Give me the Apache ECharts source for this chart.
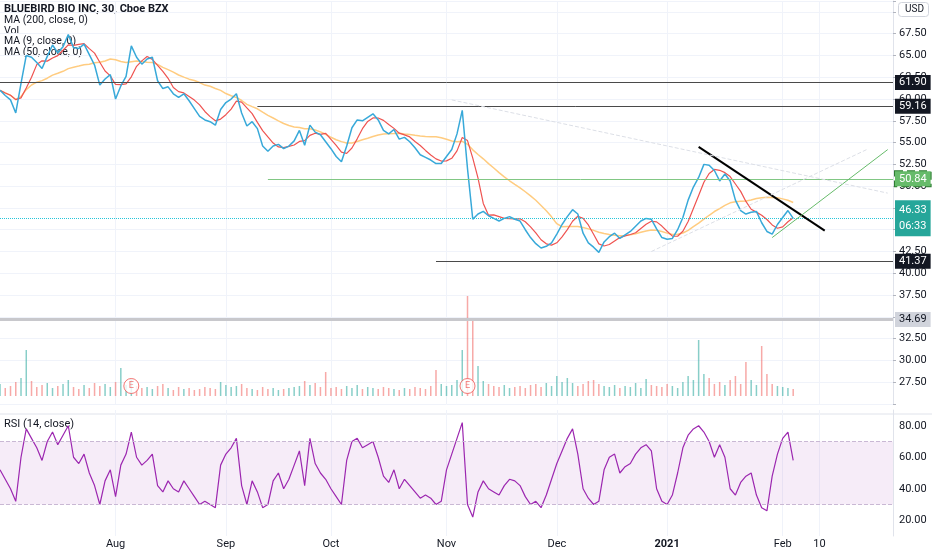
<!DOCTYPE html>
<html><head><meta charset="utf-8">
<script src="https://cdn.jsdelivr.net/npm/echarts@6/dist/echarts.min.js"></script>
<style>html,body{margin:0;padding:0;background:#fff}#c{width:932px;height:550px}</style>
</head><body><div id="c"></div>
<script>
var closes=[61.0,60.4,59.9,58.4,61.8,65.0,64.8,64.2,63.5,64.9,66.2,65.3,66.0,67.4,65.9,65.8,66.3,65.1,63.9,61.6,
62.3,62.8,60.0,61.5,62.6,66.1,64.8,64.0,64.6,64.8,62.1,61.2,61.4,60.6,60.2,60.6,59.8,58.9,58.0,57.6,
57.4,57.0,58.8,59.6,60.0,60.6,58.4,56.9,57.4,56.6,54.6,54.0,54.6,54.8,54.3,54.6,55.2,56.4,54.7,57.0,
56.2,55.9,55.1,54.3,53.4,52.8,54.6,56.7,57.6,57.5,57.9,58.3,57.6,56.4,56.0,56.5,55.4,55.6,55.1,54.4,
53.6,53.3,53.0,52.6,52.6,53.4,54.2,56.0,58.7,52.0,46.2,46.8,47.1,46.6,46.3,46.0,46.3,46.5,46.2,46.0,
45.0,44.1,43.4,42.9,43.1,43.5,44.5,45.6,46.5,47.3,46.8,44.6,43.5,43.0,42.4,43.6,44.2,44.6,44.0,44.4,
44.8,45.4,46.0,46.3,46.2,45.1,44.1,43.9,44.0,45.0,46.4,48.4,49.9,51.0,52.5,52.4,51.8,50.6,51.4,50.6,
48.4,47.2,46.8,47.0,47.1,45.8,44.8,44.5,45.6,46.4,47.2,46.3];
var volumes=[1.2,0.8,1.0,1.4,1.8,4.6,1.5,0.9,1.1,1.3,0.8,1.0,1.2,1.6,0.9,0.7,1.1,0.8,1.3,1.0,
1.2,0.9,1.4,2.8,1.1,1.7,1.0,0.8,0.9,0.7,1.0,1.2,0.8,0.6,0.9,0.7,0.8,0.6,0.7,0.9,
0.8,0.7,1.4,1.1,0.9,1.0,1.2,0.8,0.7,0.6,0.9,0.7,0.8,0.6,0.7,0.8,0.9,1.0,1.5,1.1,
1.3,0.9,2.4,0.8,0.9,0.7,1.0,0.8,1.1,0.7,0.9,0.8,0.7,0.9,0.8,0.7,0.6,0.8,0.7,0.9,
0.8,0.7,1.0,2.6,1.2,1.0,1.1,1.6,4.6,10.0,7.5,3.0,1.5,1.2,1.0,0.9,1.1,0.8,0.9,1.0,
0.8,1.1,1.2,0.9,1.3,1.0,2.0,1.4,1.8,1.3,1.0,1.2,1.5,1.6,1.2,1.0,0.9,1.1,0.8,1.0,
0.9,1.3,0.8,1.7,1.1,1.0,0.9,1.2,1.0,0.8,1.4,2.0,1.6,5.6,2.2,1.8,1.2,1.4,1.1,1.6,
2.0,1.2,3.4,1.6,1.1,5.0,2.2,1.2,1.0,0.9,0.8,0.7];
var rsi=[52,46,40,32,60,78,72,66,58,70,76,68,74,80,60,56,62,50,42,30,
45,52,35,55,62,76,60,55,58,62,42,38,45,40,38,45,40,35,30,32,
30,28,55,62,66,72,42,30,45,38,28,30,45,50,40,46,55,64,42,72,
56,50,46,40,35,30,58,70,72,66,68,70,60,48,44,52,40,46,42,38,
34,36,34,30,32,52,62,72,82,30,22,38,45,40,38,36,42,46,45,42,
35,30,32,28,36,46,56,64,72,78,62,40,34,30,32,52,60,62,50,54,
56,62,66,68,64,40,32,30,36,50,66,74,78,80,76,70,60,68,60,40,
36,44,48,50,36,28,26,48,62,72,76,58];
var monthTicks=[[22,'Aug'],[43,'Sep'],[63,'Oct'],[85,'Nov'],[106,'Dec'],[127,'2021'],[149,'Feb'],[156,'10']];
var priceTicks=[27.5,30,32.5,35,37.5,40,42.5,45,47.5,50,52.5,55,57.5,60,62.5,65,67.5,70];
var levels=[[0,61.90,'#131722','#4a4a4a'],[49,59.16,'#131722','#4a4a4a'],[51,50.84,'#66bb6a','#81c784'],[83,41.37,'#131722','#4a4a4a']];
var N=171;
var cats=[];for(var i=0;i<N;i++)cats.push(String(i));
var tickMap={};monthTicks.forEach(function(t){tickMap[t[0]]=t[1];});
function ma(arr,w){return arr.map(function(v,i){var s=0,n=0;for(var k=Math.max(0,i-w+1);k<=i;k++){s+=arr[k];n++;}return +(s/n).toFixed(2);});}
var ma9=ma(closes,4), ma50=ma(closes,18);
var volData=volumes.map(function(v,i){var up=i==0||closes[i]>=closes[i-1];return {value:v,itemStyle:{color:up?'rgba(38,166,154,0.55)':'rgba(239,83,80,0.5)'}};});
function seg(a,b,c,t,w,label){var ls={color:c,type:t,width:w};return [{coord:[cats[a[0]],a[1]],lineStyle:ls,label:label||{show:false}},{coord:[cats[b[0]],b[1]],lineStyle:ls,label:label||{show:false}}];}
function boxLabel(txt,bg,fg,extra){return Object.assign({show:true,position:'end',distance:2,formatter:txt,color:fg||'#fff',backgroundColor:bg,padding:[2,4],fontSize:11},extra||{});}
var ml=levels.map(function(l){return seg([l[0],l[1]],[N-1,l[1]],l[3],'solid',1,boxLabel(l[1].toFixed(2),l[2],'#fff',l[2]=='#66bb6a'?{borderColor:'#2e7d32',borderType:'dashed',borderWidth:1}:{}));});
ml.push(seg([0,34.69],[N-1,34.69],'#c8c8cc','solid',3,boxLabel('34.69','#d1d4dc','#131722')));
ml.push(seg([0,46.33],[N-1,46.33],'#26c6da','dotted',1,boxLabel('46.33\n06:33','#26a69a','#fff',{lineHeight:16})));
ml.push(seg([133,54.5],[157,44.9],'#000','solid',2));
ml.push(seg([147,44.1],[169,54.2],'#66bb6a','solid',1));
ml.push(seg([86,59.9],[169,49.2],'#dcdfe6','dashed',1));
ml.push(seg([124,42.5],[165,54.2],'#dcdfe6','dashed',1));
ml.push(seg([135,53.0],[146,71.4],'#b8bcc8','dotted',1.2));
var chart=echarts.init(document.getElementById('c'));
var xBase={type:'category',data:cats,boundaryGap:false,axisTick:{show:false},axisLine:{show:false},
 splitLine:{show:true,interval:function(i){return tickMap[i]!==undefined;},lineStyle:{color:'#f0f3fa'}}};
chart.setOption({animation:false,textStyle:{fontFamily:'Roboto, "Noto Sans", sans-serif'},
grid:[{left:0,right:39,top:1,height:403},{left:0,right:39,top:296,height:100},{left:0,right:39,top:410,height:128}],
xAxis:[Object.assign({gridIndex:0,axisLabel:{show:false}},xBase),
 Object.assign({gridIndex:1,axisLabel:{show:false}},xBase,{splitLine:{show:false}}),
 Object.assign({gridIndex:2,axisLabel:{show:true,margin:3,interval:function(i){return tickMap[i]!==undefined;},
  formatter:function(v){var t=tickMap[+v];return t=='2021'?'{b|2021}':t;},color:'#131722',fontSize:11,rich:{b:{fontWeight:'bold',fontSize:11,color:'#131722'}}}},xBase)],
yAxis:[{gridIndex:0,position:'right',min:25,max:71.25,interval:2.5,axisLine:{show:true,lineStyle:{color:'#e0e3eb'}},axisTick:{show:true,length:3,lineStyle:{color:'#b2b5be'}},
  axisLabel:{margin:6,color:'#131722',fontSize:11,formatter:function(v){return priceTicks.indexOf(v)>=0?v.toFixed(2):'';}},splitLine:{lineStyle:{color:'#f0f3fa'}}},
 {gridIndex:1,min:0,max:10,show:false},
 {gridIndex:2,position:'right',min:10,max:90,interval:10,axisLine:{show:true,lineStyle:{color:'#e0e3eb'}},axisTick:{show:false},splitLine:{show:false},
  axisLabel:{margin:6,color:'#131722',fontSize:11,formatter:function(v){return (v%20==0&&v>10&&v<90)?v.toFixed(2):'';}}}],
series:[
 {type:'bar',xAxisIndex:1,yAxisIndex:1,data:volData,barWidth:1.5,silent:true},
 {type:'scatter',xAxisIndex:1,yAxisIndex:1,data:[[cats[25],1.0],[cats[89],1.0]],symbol:'circle',symbolSize:15,
  itemStyle:{color:'#fff',borderColor:'#ef5350',borderWidth:1},label:{show:true,formatter:'E',color:'#ef5350',fontSize:9},z:5},
 {type:'line',data:ma50,showSymbol:false,lineStyle:{color:'#ffcc80',width:1.5},z:2},
 {type:'line',data:ma9,showSymbol:false,lineStyle:{color:'#ef5350',width:1.2},z:3},
 {type:'line',data:closes,showSymbol:false,lineStyle:{color:'#38a9d9',width:1.5},z:4,markLine:{silent:true,symbol:'none',lineStyle:{type:'solid'},data:ml,animation:false}},
 {type:'line',xAxisIndex:2,yAxisIndex:2,data:rsi,showSymbol:false,lineStyle:{color:'#9c27b0',width:1.2},z:4,
  markArea:{silent:true,itemStyle:{color:'rgba(156,39,176,0.09)'},data:[[{yAxis:30},{yAxis:70}]]},
  markLine:{silent:true,symbol:'none',label:{show:false},lineStyle:{color:'#c9b8d4',type:'dashed',width:1},data:[{yAxis:30},{yAxis:70}]}}
],
graphic:[
 {type:'text',left:4,top:4,style:{text:'BLUEBIRD BIO INC, 30, Cboe BZX',font:'bold 11px Roboto',fill:'#131722'}},
 {type:'text',left:4,top:15,style:{text:'MA (200, close, 0)\nVol\nMA (9, close, 0)\nMA (50, close, 0)',font:'10.5px Roboto',fill:'#131722',lineHeight:10.5}},
 {type:'text',left:4,top:419,style:{text:'RSI (14, close)',font:'11px Roboto',fill:'#131722'}},
 {type:'line',shape:{x1:0,y1:414,x2:932,y2:414},style:{stroke:'#e0e3eb'}},
 {type:'rect',right:3,top:2,shape:{width:30,height:14,r:3},style:{fill:'#fff',stroke:'#d1d4dc'},z:10},
 {type:'text',right:8,top:4,style:{text:'USD',font:'10px Roboto',fill:'#131722'},z:11}
]});
</script></body></html>
